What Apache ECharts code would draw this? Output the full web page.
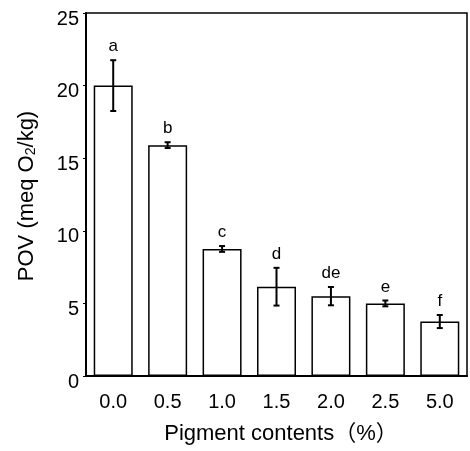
<!DOCTYPE html>
<html>
<head>
<meta charset="utf-8">
<script src="https://cdn.jsdelivr.net/npm/echarts@6/dist/echarts.min.js"></script>
<style>
  html, body { margin: 0; padding: 0; background: #fff; }
  #chart { width: 470px; height: 451px; }
</style>
</head>
<body>
<div id="chart"></div>
<script>
  var categories = ['0.0', '0.5', '1.0', '1.5', '2.0', '2.5', '5.0'];
  var povMean = [20.0, 15.9, 8.75, 6.15, 5.5, 5.0, 3.75];
  var povErr = [1.75, 0.2, 0.2, 1.3, 0.63, 0.2, 0.45];
  var letters = ['a', 'b', 'c', 'd', 'de', 'e', 'f'];

  var font = '"Liberation Sans", Arial, "Noto Sans CJK SC", sans-serif';

  var errData = povMean.map(function (v, i) {
    return [i, v - povErr[i], v + povErr[i], letters[i]];
  });

  var chart = echarts.init(document.getElementById('chart'));

  chart.setOption({
    animation: false,
    backgroundColor: '#fff',
    grid: {
      left: 86,
      right: 3,
      top: 13,
      bottom: 75,
      show: true,
      borderColor: '#000',
      borderWidth: 1.5
    },
    xAxis: {
      type: 'category',
      data: categories,
      axisLine: { lineStyle: { color: '#000', width: 2 } },
      axisTick: { inside: true, length: 4, lineStyle: { color: '#000' } },
      axisLabel: { fontFamily: font, fontSize: 20, color: '#000', margin: 16 }
    },
    yAxis: {
      type: 'value',
      min: 0,
      max: 25,
      interval: 5,
      splitLine: { show: false },
      axisLine: { show: true, lineStyle: { color: '#000', width: 2 } },
      axisTick: { show: true, length: 3, lineStyle: { color: '#000' } },
      axisLabel: {
        fontFamily: font, fontSize: 20, color: '#000', margin: 7,
        verticalAlign: 'top', lineHeight: 12
      }
    },
    graphic: [{
      type: 'text',
      rotation: Math.PI / 2,
      x: 27,
      y: 196,
      style: {
        text: 'POV (meq O{sub|2}/kg)',
        font: '22px ' + font,
        fill: '#000',
        align: 'center',
        verticalAlign: 'middle',
        rich: {
          sub: { fontSize: 14, fontFamily: font, padding: [9, 0, 0, 0] }
        }
      }
    }, {
      type: 'text',
      x: 281,
      y: 434,
      style: {
        text: 'Pigment contents（%）',
        font: '22px ' + font,
        fill: '#000',
        align: 'center',
        verticalAlign: 'middle'
      }
    }],
    series: [{
      type: 'bar',
      data: povMean,
      barWidth: 39,
      itemStyle: { color: '#fff', borderColor: '#000', borderWidth: 1.5 }
    }, {
      type: 'custom',
      data: errData,
      z: 10,
      renderItem: function (params, api) {
        var lo = api.coord([api.value(0), api.value(1)]);
        var hi = api.coord([api.value(0), api.value(2)]);
        var cap = 3;
        var style = { stroke: '#000', lineWidth: 2 };
        return {
          type: 'group',
          children: [
            { type: 'line', shape: { x1: hi[0], y1: hi[1], x2: lo[0], y2: lo[1] }, style: style },
            { type: 'line', shape: { x1: hi[0] - cap, y1: hi[1], x2: hi[0] + cap, y2: hi[1] }, style: style },
            { type: 'line', shape: { x1: lo[0] - cap, y1: lo[1], x2: lo[0] + cap, y2: lo[1] }, style: style },
            {
              type: 'text',
              x: hi[0],
              y: hi[1] - 5,
              style: {
                text: api.value(3),
                font: '17px ' + font,
                fill: '#000',
                align: 'center',
                verticalAlign: 'bottom'
              }
            }
          ]
        };
      }
    }]
  });
</script>
</body>
</html>
